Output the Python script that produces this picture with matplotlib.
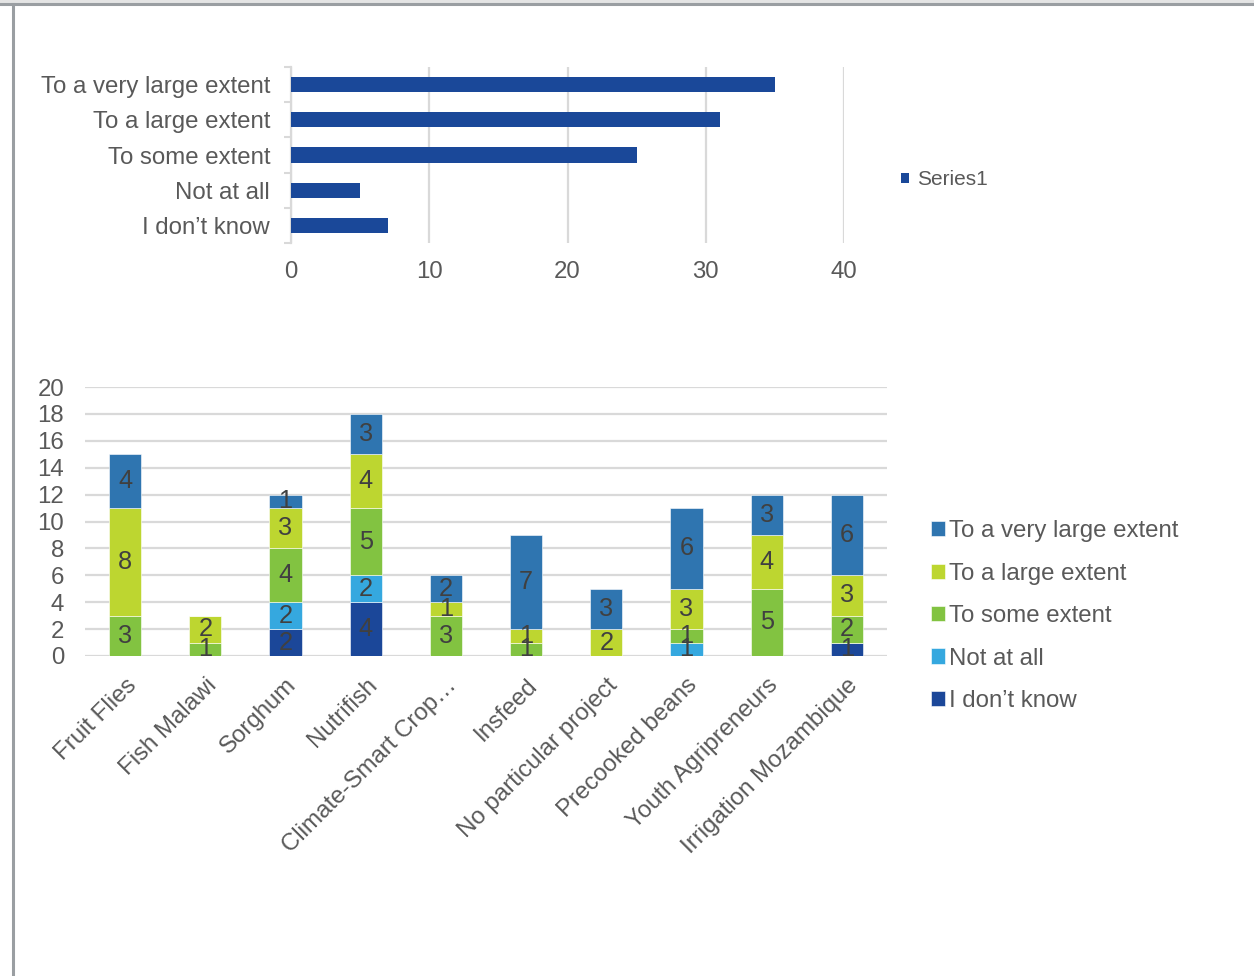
import matplotlib
matplotlib.use("Agg")
import matplotlib.pyplot as plt
from matplotlib.patches import Rectangle
from matplotlib.lines import Line2D
import numpy as np

plt.rcParams['font.family'] = ['Liberation Sans', 'DejaVu Sans']

# ---- data: overall responses ----
response_levels = ["To a very large extent", "To a large extent", "To some extent",
                   "Not at all", "I don\u2019t know"]
response_counts = [35, 31, 25, 5, 7]

# ---- data: responses per project ----
projects = ["Fruit Flies", "Fish Malawi", "Sorghum", "Nutrifish", "Climate-Smart Crop\u2026",
            "Insfeed", "No particular project", "Precooked beans", "Youth Agripreneurs",
            "Irrigation Mozambique"]
dont_know = [0, 0, 2, 4, 0, 0, 0, 0, 0, 1]
not_at_all = [0, 0, 2, 2, 0, 0, 0, 1, 0, 0]
some_extent = [3, 1, 4, 5, 3, 1, 0, 1, 5, 2]
large_extent = [8, 2, 3, 4, 1, 1, 2, 3, 4, 3]
very_large_extent = [4, 0, 1, 3, 2, 7, 3, 6, 3, 6]

stack_names = ["I don\u2019t know", "Not at all", "To some extent", "To a large extent",
               "To a very large extent"]
stack_values = [dont_know, not_at_all, some_extent, large_extent, very_large_extent]
stack_colors = ["#1b4799", "#35a8df", "#82c341", "#bdd630", "#2f75b0"]

TEXT = "#595959"
GRID = "#d9d9d9"
FS = 17.3

fig = plt.figure(figsize=(12.54, 9.76), dpi=100)
fig.patch.set_facecolor("white")

# frame around the chart area
fig.add_artist(Rectangle((0, 1 - 3.5 / 976), 1, 3.5 / 976, transform=fig.transFigure,
                         facecolor="#e4e4e4", edgecolor="none"))
fig.add_artist(Line2D([0, 1], [1 - 4 / 976] * 2, transform=fig.transFigure,
                      color="#9a9ea2", lw=2.2))
fig.add_artist(Line2D([12.5 / 1254] * 2, [0, 1 - 4 / 976], transform=fig.transFigure,
                      color="#9a9ea2", lw=2.2))

# ---- top: horizontal bar chart ----
ax1 = fig.add_axes([291 / 1254, 1 - 243 / 976, 553 / 1254, 176 / 976])
ypos = np.arange(len(response_levels))[::-1]
ax1.barh(ypos, response_counts, height=0.43, color="#1a4899", zorder=3)
ax1.set_xlim(0, 40)
ax1.set_ylim(-0.5, len(response_levels) - 0.5)
ax1.set_xticks(np.arange(0, 41, 10))
ax1.set_yticks(ypos)
ax1.set_yticklabels(response_levels)
ax1.set_yticks(np.arange(-0.5, len(response_levels), 1), minor=True)
ax1.tick_params(axis="y", which="major", length=0, pad=15, labelsize=FS, labelcolor=TEXT)
ax1.tick_params(axis="y", which="minor", length=5, color=GRID, width=1.5)
ax1.tick_params(axis="x", length=0, pad=13, labelsize=FS, labelcolor=TEXT)
ax1.grid(axis="x", color=GRID, lw=1.6, zorder=0)
for s in ["top", "right", "bottom"]:
    ax1.spines[s].set_visible(False)
ax1.spines["left"].set_color(GRID)
ax1.spines["left"].set_linewidth(1.6)
leg1 = ax1.legend(["Series1"], loc="center left", bbox_to_anchor=(1.07, 0.36), frameon=False,
                  fontsize=15, handlelength=0.35, handleheight=0.35, handletextpad=0.4,
                  labelcolor=TEXT)

# ---- bottom: stacked column chart ----
ax2 = fig.add_axes([85 / 1254, 1 - 656 / 976, 802 / 1254, 269 / 976])
x = np.arange(len(projects))
bottom = np.zeros(len(projects))
handles = []
for name, vals, col in zip(stack_names, stack_values, stack_colors):
    vals = np.array(vals, dtype=float)
    bars = ax2.bar(x, vals, width=0.4, bottom=bottom, color=col, edgecolor="#ffffff",
                   linewidth=0.4, zorder=3, label=name)
    ax2.bar_label(bars, labels=[str(int(v)) if v > 0 else "" for v in vals],
                  label_type="center", fontsize=FS + 1, color="#404040", zorder=4)
    handles.append(bars)
    bottom += vals

ax2.set_xlim(-0.5, len(projects) - 0.5)
ax2.set_ylim(0, 20)
ax2.set_yticks(np.arange(0, 21, 2))
ax2.set_xticks(x)
ax2.set_xticklabels(projects, rotation=45, ha="right", va="top", rotation_mode="anchor")
for lbl in ax2.get_xticklabels():
    lbl.set_x(lbl.get_position()[0])
ax2.tick_params(axis="x", length=0, pad=13, labelsize=FS, labelcolor=TEXT)
ax2.tick_params(axis="y", length=0, pad=15, labelsize=FS, labelcolor=TEXT)
ax2.grid(axis="y", color=GRID, lw=1.6, zorder=0)
for s in ax2.spines.values():
    s.set_visible(False)

leg2 = ax2.legend(handles[::-1], stack_names[::-1], loc="upper left",
                  bbox_to_anchor=(1.028, 0.585), frameon=False, fontsize=FS,
                  handlelength=0.6, handleheight=0.6, handletextpad=0.15,
                  labelspacing=0.85, labelcolor=TEXT)

fig.savefig("out.png", dpi=100, facecolor="white")
